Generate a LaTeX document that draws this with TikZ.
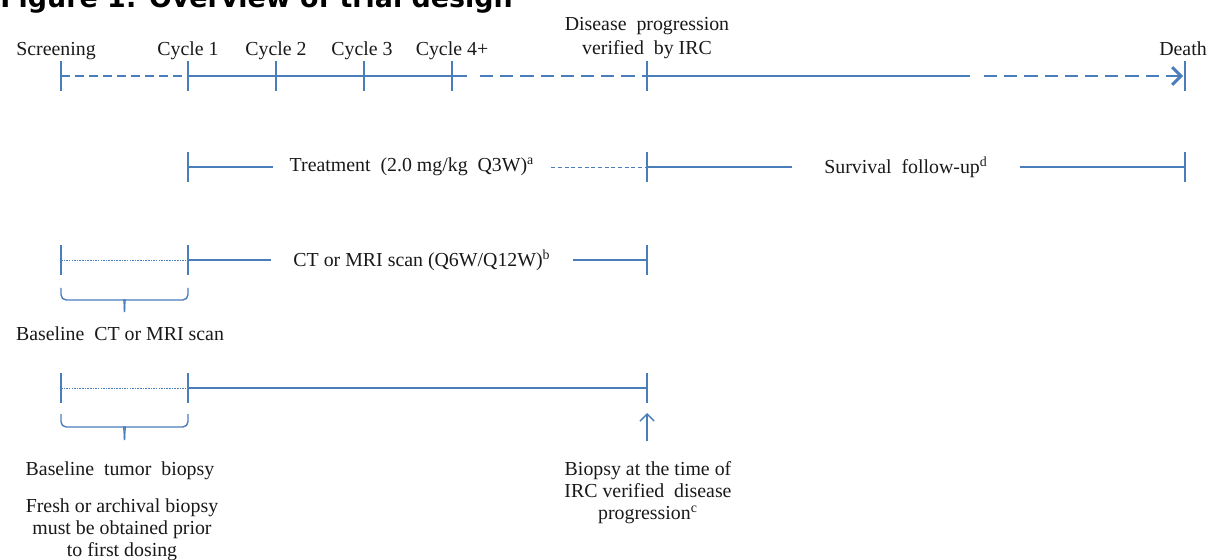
\documentclass[tikz,border=0pt]{standalone}
\usepackage{fontspec}
\setmainfont{Liberation Serif}
\newfontfamily\titlefont{DejaVu Sans}
\usetikzlibrary{positioning,arrows.meta}
\definecolor{trialblue}{RGB}{74,126,187}
\definecolor{textdark}{RGB}{25,25,25}

\begin{document}
\begin{tikzpicture}[
  x=0.02cm, y=-0.02cm,
  label/.style={text=textdark, font=\fontsize{11.3}{12.5}\selectfont, inner sep=0pt, align=center},
  tick/.style={draw=trialblue, line width=1.1pt},
  axis/.style={draw=trialblue, line width=1.7pt},
  axisshort/.style={axis, dash pattern=on 5pt off 3pt},
  axislong/.style={axis, dash pattern=on 7.5pt off 4pt},
  span/.style={draw=trialblue, line width=0.8pt},
  spandash/.style={draw=trialblue, line width=0.5pt, dash pattern=on 2.2pt off 1.6pt},
  spandot/.style={draw=trialblue, line width=0.4pt, dash pattern=on 0.9pt off 0.6pt},
  arrow/.style={span, -{Straight Barb[length=4pt,width=8pt]}}
]
\useasboundingbox (0,0) rectangle (1209,560);
\node[anchor=base west, inner sep=0pt, font=\titlefont\bfseries\fontsize{15.3}{18}\selectfont] (title) at (0,8) {Figure 1: Overview of trial design};

% main timeline
\foreach \name/\x in {scr/61,cyc1/188,cyc2/276,cyc3/364,cyc4/452,prog/647,death/1185}
  \coordinate (\name) at (\x,76);
\foreach \name in {scr,cyc1,cyc2,cyc3,cyc4,prog,death}
  \draw[tick] (\name) ++(0,-15) -- ++(0,30);
\coordinate (solidend1) at (467,76);
\coordinate (dashstart1) at (480,76);
\coordinate (solidend2) at (970,76);
\coordinate (dashstart2) at (984,76);
\draw[axisshort] (scr) -- (cyc1);
\draw[axis] (cyc1) -- (solidend1);
\draw[axislong] (dashstart1) -- (prog);
\draw[axis] (prog) -- (solidend2);
\draw[axislong, -{Straight Barb[length=5pt,width=10pt,line width=1.7pt]}] (dashstart2) -- ([xshift=-0.04cm]death);

\node[label, anchor=base] (scrlab) at (56,56) {Screening};
\foreach \name/\txt/\x in {cyc1/Cycle 1/188,cyc2/Cycle 2/276,cyc3/Cycle 3/362,cyc4/Cycle 4+/452}
  \node[label, anchor=base] (\name lab) at (\x,56) {\txt};
\node[label, anchor=base, font=\fontsize{11.3}{14.2}\selectfont] (proglab) at (647,55) {Disease\ \ progression\\verified\ \ by IRC};
\node[label, anchor=base] (deathlab) at (1183,56) {Death};

% treatment and follow-up
\foreach \name/\x in {trt/188,fup/647,fend/1185}
  \coordinate (\name) at (\x,167);
\foreach \name in {trt,fup,fend}
  \draw[tick] (\name) ++(0,-15) -- ++(0,30);
\node[label, inner xsep=9.5pt] (treat) at (412,167) {Treatment\ \ (2.0 mg/kg\ \ Q3W)\textsuperscript{a}};
\node[label, inner xsep=18pt] (surv) at (906,167) {Survival\ \ follow-up\textsuperscript{d}};
\draw[span] (trt) -- (treat);
\draw[spandash] (treat) -- (fup);
\draw[span] (fup) -- (surv);
\draw[span] (surv) -- (fend);

% tumour scans
\foreach \name/\x in {bscan/61,scan1/188,scan2/647}
  \coordinate (\name) at (\x,260);
\foreach \name in {bscan,scan1,scan2}
  \draw[tick] (\name) ++(0,-15) -- ++(0,30);
\node[label, inner xsep=12.5pt] (ctscan) at (422,260) {CT or MRI scan (Q6W/Q12W)\textsuperscript{b}};
\draw[spandot] (bscan) -- (scan1);
\draw[span] (scan1) -- (ctscan);
\draw[span] (ctscan) -- (scan2);
\draw[span, rounded corners=3pt] (61,288) |- (120,300) to[out=0,in=90] (124.5,312);
\draw[span, rounded corners=3pt] (188,288) |- (129,300) to[out=180,in=90] (124.5,312);
\node[label] (bscanlab) at (120,334) {Baseline\ \ CT or MRI scan};

% biopsies
\foreach \name/\x in {bbio/61,bio1/188,bio2/647}
  \coordinate (\name) at (\x,388);
\foreach \name in {bbio,bio1,bio2}
  \draw[tick] (\name) ++(0,-15) -- ++(0,30);
\draw[spandot] (bbio) -- (bio1);
\draw[span] (bio1) -- (bio2);
\draw[span, rounded corners=3pt] (61,414) |- (120,427) to[out=0,in=90] (124.5,440);
\draw[span, rounded corners=3pt] (188,414) |- (129,427) to[out=180,in=90] (124.5,440);
\coordinate (arrfoot) at (647,441);
\coordinate (arrtip) at (647,413);
\draw[arrow] (arrfoot) -- (arrtip);

\node[label, anchor=base] (bbiolab) at (120,475) {Baseline\ \ tumor\ \ biopsy};
\node[label, anchor=base] (freshlab) at (122,556) {Fresh or archival biopsy\\must be obtained prior\\to first dosing};
\node[label, anchor=base] (progbiolab) at (648,519) {Biopsy at the time of\\IRC verified\ \ disease\\progression\textsuperscript{c}};
\end{tikzpicture}
\end{document}
